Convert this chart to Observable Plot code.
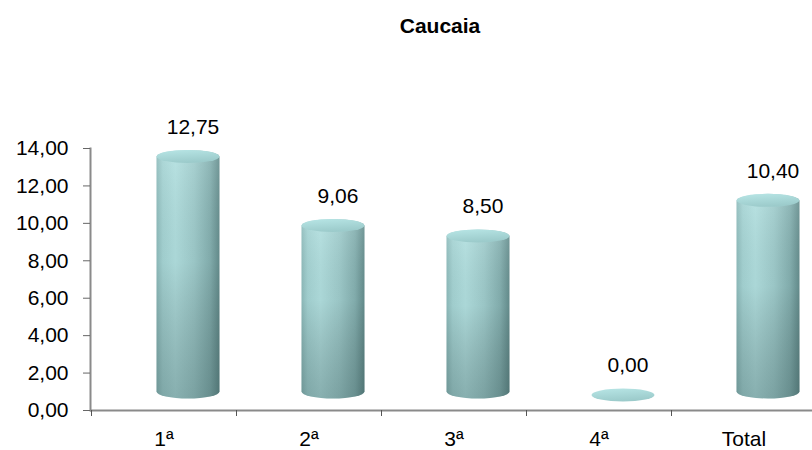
<!DOCTYPE html>
<html>
<head>
<meta charset="utf-8">
<script src="https://cdn.jsdelivr.net/npm/d3@7"></script>
<script src="https://cdn.jsdelivr.net/npm/@observablehq/plot@0.6"></script>
<style>
  html, body { margin: 0; padding: 0; background: #fff; }
  #title {
    width: 812px; height: 50px; box-sizing: border-box;
    padding-left: 68px; text-align: center;
    font: bold 21px "Liberation Sans", Arial, sans-serif;
    line-height: 52px; color: #000;
  }
  #chart svg { display: block; }
</style>
</head>
<body>
<div id="title"></div>
<div id="chart"></div>
<script>
const title = "Caucaia";
const categories = ["1ª", "2ª", "3ª", "4ª", "Total"];
const values = [12.75, 9.06, 8.50, 0.00, 10.40];
const valueLabels = ["12,75", "9,06", "8,50", "0,00", "10,40"];
const yTicks = [0, 2, 4, 6, 8, 10, 12, 14];

const data = categories.map((c, i) => ({cat: c, value: values[i], label: valueLabels[i]}));
document.getElementById("title").textContent = title;

const fmt = d => d.toFixed(2).replace(".", ",");
const barInset = {insetLeft: 65.5, insetRight: 16.5, rx: 31.5};

const svg = Plot.plot({
  width: 812,
  height: 400,
  marginTop: 98,
  marginBottom: 40,
  marginLeft: 90,
  marginRight: 0,
  style: {fontSize: "21px", fontFamily: "'Liberation Sans', Arial, sans-serif", color: "#000", background: "#fff"},
  x: {type: "band", domain: categories, range: [91, 816], padding: 0, label: null},
  y: {domain: [0, 14], label: null},
  marks: [
    Plot.frame({anchor: "left", stroke: "#8a8a8a", strokeWidth: 2}),
    Plot.ruleY([0], {stroke: "#8a8a8a", strokeWidth: 2}),
    Plot.axisY({ticks: yTicks, tickFormat: fmt, tickSize: 7, tickPadding: 15, stroke: "#666", fill: "#000"}),
    Plot.axisX({tickSize: 6, dx: -72.5, tickFormat: () => "", stroke: "#555", label: null}),
    Plot.axisX({tickSize: 0, tickPadding: 21, fill: "#000", label: null}),
    // cylinder bodies
    Plot.barY(data.filter(d => d.value > 0), {x: "cat", y1: 0, y2: "value", dy: -15, insetTop: -6.5, insetBottom: -3.5, ry: 7, ...barInset, fill: "url(#cylBody)"}),
    Plot.barY(data.filter(d => d.value > 0), {x: "cat", y1: 0, y2: "value", dy: -15, insetTop: -6.5, insetBottom: -3.5, ry: 7, ...barInset, fill: "url(#cylShade)"}),
    // top faces
    Plot.barY(data, {x: "cat", y1: "value", y2: "value", dy: -15, insetTop: -6.5, insetBottom: -6.5, ry: 6.5, ...barInset, fill: "url(#cylTop)"}),
    // value labels
    Plot.text(data, {x: "cat", y: "value", text: "label", dx: 29, dy: -45, fill: "#000"})
  ]
});

const defs = d3.select(svg).insert("defs", ":first-child");
const bodyGrad = defs.append("linearGradient").attr("id", "cylBody").attr("x1", 0).attr("x2", 1).attr("y1", 0).attr("y2", 0);
[["0%", "#8fbdbd"], ["10%", "#a6d5d5"], ["30%", "#b2e0e0"], ["60%", "#a0cdcd"], ["85%", "#86b2b2"], ["100%", "#668f8f"]]
  .forEach(([o, c]) => bodyGrad.append("stop").attr("offset", o).attr("stop-color", c));
const shadeGrad = defs.append("linearGradient").attr("id", "cylShade").attr("x1", 0).attr("x2", 0).attr("y1", 0).attr("y2", 1);
shadeGrad.append("stop").attr("offset", "0%").attr("stop-color", "#ffffff").attr("stop-opacity", 0.1);
shadeGrad.append("stop").attr("offset", "45%").attr("stop-color", "#000000").attr("stop-opacity", 0.04);
shadeGrad.append("stop").attr("offset", "100%").attr("stop-color", "#1a3333").attr("stop-opacity", 0.28);
const topGrad = defs.append("linearGradient").attr("id", "cylTop").attr("x1", 0).attr("x2", 0.3).attr("y1", 0).attr("y2", 1);
topGrad.append("stop").attr("offset", "0%").attr("stop-color", "#b8e6e6");
topGrad.append("stop").attr("offset", "100%").attr("stop-color", "#9ccbcb");

document.getElementById("chart").appendChild(svg);
</script>
</body>
</html>
